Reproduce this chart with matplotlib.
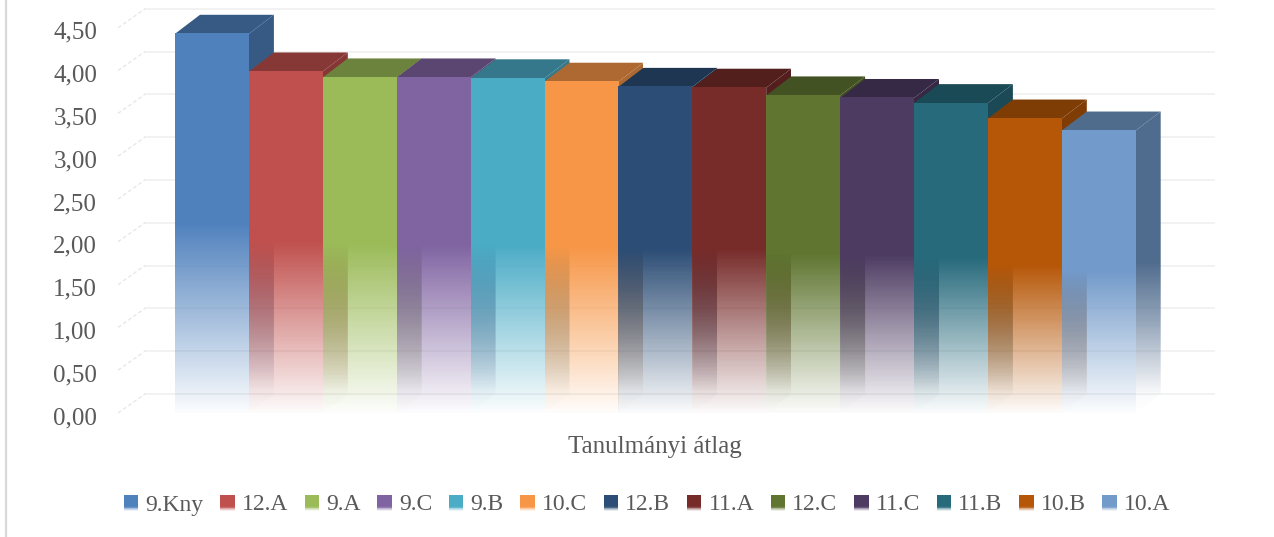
"""Faux 3D column chart of class averages, with fading columns."""

import numpy as np
import matplotlib

matplotlib.use('Agg')

import matplotlib.pyplot as plt
from matplotlib.colors import to_rgb
from matplotlib.legend_handler import HandlerBase
from matplotlib.patches import Patch, Polygon, Rectangle
from matplotlib.transforms import ScaledTranslation

classes = ['9.Kny', '12.A', '9.A', '9.C', '9.B', '10.C', '12.B',
           '11.A', '12.C', '11.C', '11.B', '10.B', '10.A']
averages = [4.43, 3.99, 3.92, 3.92, 3.91, 3.87, 3.81,
            3.80, 3.71, 3.68, 3.62, 3.44, 3.30]
colors = ['#4F81BD', '#C0504D', '#9BBB59', '#8064A2', '#4BACC6', '#F79646', '#2C4D75',
          '#772C2A', '#5F7530', '#4D3B62', '#276A7C', '#B65708', '#729ACA']
y_ticks = [0.0, 0.5, 1.0, 1.5, 2.0, 2.5, 3.0, 3.5, 4.0, 4.5]
x_title = 'Tanulmányi átlag'

TEXT_COLOR = '#595959'
GRID_COLOR = '#f1f1f1'

# pixel layout of the reference, everything else is derived from it
WIDTH, HEIGHT = 1274, 537
PX_X0, PX_PER_BAR = 175, 73.9
PX_Y0, PX_PER_UNIT = 413, 85.6
DEPTH_X, DEPTH_Y = 25 / PX_PER_BAR, 19 / PX_PER_UNIT
WALL_X, WALL_Y = 27 / PX_PER_BAR, 19 / PX_PER_UNIT

plt.rcParams['font.family'] = ['Liberation Serif', 'DejaVu Serif']


def px_x(px):
    return (px - PX_X0) / PX_PER_BAR


def px_y(py):
    return (PX_Y0 - py) / PX_PER_UNIT


def fade(frac):
    """Opacity at a relative height of a column front."""
    return np.interp(frac, [0.0, 0.05, 0.5, 1.0], [0.02, 0.12, 1.0, 1.0])


def fade_side(frac):
    # the sides dissolve sooner than the fronts
    return np.interp(frac, [0.0, 0.06, 0.3, 0.5, 1.0], [0.0, 0.03, 0.6, 1.0, 1.0])


def gradient(color, fade_func, n=256):
    rgba = np.ones((n, 1, 4))
    rgba[:, :, :3] = to_rgb(color)
    rgba[:, 0, 3] = fade_func(np.linspace(0, 1, n))
    return rgba


def shade(color, factor=0.7):
    return tuple(c * factor for c in to_rgb(color))


class GradientHandler(HandlerBase):
    def create_artists(self, legend, orig_handle, xdescent, ydescent, width, height, fontsize, trans):
        strips = []
        n = 14
        for k in range(n):
            frac = k / (n - 1)
            alpha = np.interp(frac, [0.0, 0.35, 1.0], [0.1, 1.0, 1.0])
            strips.append(Rectangle((xdescent, ydescent + height * k / n), width, height / n + 0.3,
                                    facecolor=orig_handle.get_facecolor()[:3], alpha=alpha,
                                    edgecolor='none', transform=trans))
        return strips


fig = plt.figure(figsize=(WIDTH / 100, HEIGHT / 100), dpi=100)
ax = fig.add_axes([0, 0, 1, 1])
for spine in ax.spines.values():
    spine.set_visible(False)

# left border of the chart frame
ax.plot([px_x(6), px_x(6)], [px_y(0), px_y(HEIGHT)], color='#d9d9d9', lw=1.6, zorder=1)

# back wall gridlines and the slanted side wall ticks
wall_left, wall_right = px_x(145), px_x(1214)
for tick in y_ticks:
    ax.plot([wall_left, wall_right], [tick + WALL_Y, tick + WALL_Y], color=GRID_COLOR, lw=1.3, zorder=1)
    ax.plot([wall_left - WALL_X, wall_left], [tick, tick + WALL_Y], color='#e6e6e6', lw=0.9,
            linestyle=(0, (3, 2)), zorder=1)

# left to right so that each column covers the side of the one before it
for i, (value, color) in enumerate(zip(averages, colors)):
    z = 2 + i
    side_top = value + DEPTH_Y
    side = Polygon([(i + 1, 0), (i + 1 + DEPTH_X, DEPTH_Y), (i + 1 + DEPTH_X, side_top), (i + 1, value)],
                   closed=True, transform=ax.transData, facecolor='none', edgecolor='none')
    ax.add_patch(side)
    side_img = ax.imshow(gradient(shade(color), fade_side), extent=[i + 1, i + 1 + DEPTH_X, 0, side_top],
                         origin='lower', aspect='auto', zorder=z, interpolation='nearest')
    side_img.set_clip_path(side)

    ax.add_patch(Polygon([(i, value), (i + DEPTH_X, side_top), (i + 1 + DEPTH_X, side_top), (i + 1, value)],
                         closed=True, facecolor=shade(color), edgecolor='none', zorder=z))

    ax.imshow(gradient(color, fade), extent=[i, i + 1, 0, value],
              origin='lower', aspect='auto', zorder=z, interpolation='nearest')

ax.set_xlim(px_x(0), px_x(WIDTH))
ax.set_ylim(px_y(HEIGHT), px_y(0))

ax.set_xticks([])
ax.set_yticks(y_ticks)
ax.set_yticklabels([f'{t:.2f}'.replace('.', ',') for t in y_ticks], color=TEXT_COLOR, fontsize=18)
ax.tick_params(axis='y', length=0, pad=-70)
label_shift = ScaledTranslation(0, -2.5 / 100, fig.dpi_scale_trans)
for label in ax.get_yticklabels():
    label.set_transform(label.get_transform() + label_shift)

ax.text(px_x(655), px_y(447), x_title, color=TEXT_COLOR, fontsize=18, ha='center', va='center')

handles = [Patch(facecolor=c, label=name) for name, c in zip(classes, colors)]
ax.legend(handles=handles, handler_map={Patch: GradientHandler()}, ncols=len(classes),
          loc='center', bbox_to_anchor=(647 / WIDTH, 1 - 505 / HEIGHT), frameon=False,
          fontsize=17, labelcolor=TEXT_COLOR, handlelength=0.62, handleheight=0.62,
          handletextpad=0.3, columnspacing=0.7, borderpad=0, borderaxespad=0)

fig.savefig('out.png', dpi=100)
